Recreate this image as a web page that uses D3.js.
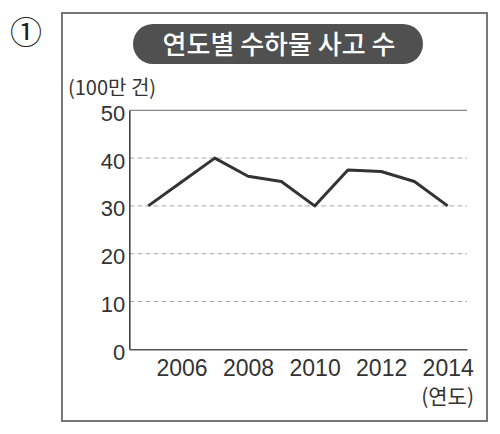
<!DOCTYPE html>
<html><head><meta charset="utf-8">
<script src="https://cdn.jsdelivr.net/npm/d3@7"></script>
<style>
html,body{margin:0;padding:0;background:#fff;}
svg{display:block;}
</style></head>
<body>
<script>
const years = [2005, 2006, 2007, 2008, 2009, 2010, 2011, 2012, 2013, 2014];
const incidents = [30, 35, 40, 36.2, 35.1, 30, 37.5, 37.2, 35.1, 30];
const yTicks = [0, 10, 20, 30, 40, 50];
const xTicks = [2006, 2008, 2010, 2012, 2014];
const title = "연도별 수하물 사고 수";
const yUnit = "(100만 건)";
const xUnit = "(연도)";
const marker = "①";

const W = 500, H = 434;
const svg = d3.select("body").append("svg").attr("width", W).attr("height", H);
const numFont = "'Liberation Sans Narrow','Arial Narrow','Liberation Sans',sans-serif";
const krFont = "'Noto Sans CJK KR','Noto Sans',sans-serif";

// frame
svg.append("rect").attr("x", 62).attr("y", 13).attr("width", 425).attr("height", 408)
  .attr("fill", "none").attr("stroke", "#777").attr("stroke-width", 2);

// marker
svg.append("text").attr("x", 26).attr("y", 44).attr("text-anchor", "middle")
  .attr("font-family", "'DejaVu Serif','Noto Sans CJK KR',serif").attr("font-size", 32)
  .attr("fill", "#222").text(marker);

// title pill
svg.append("rect").attr("x", 133).attr("y", 24).attr("width", 290).attr("height", 40)
  .attr("rx", 20).attr("ry", 20).attr("fill", "#505050");
svg.append("text").attr("x", 279).attr("y", 54).attr("text-anchor", "middle")
  .attr("font-family", krFont).attr("font-size", 26).attr("font-weight", 500)
  .attr("fill", "#fff").text(title);

const x = d3.scaleLinear().domain([2004.43, 2014.58]).range([129.3, 467]);
const y = d3.scaleLinear().domain([0, 50]).range([349.3, 110.3]);

// grid
const g = svg.append("g");
g.selectAll("line.grid").data(yTicks.filter(d => d > 0 && d < 50)).join("line")
  .attr("class", "grid")
  .attr("x1", x.range()[0]).attr("x2", x.range()[1])
  .attr("y1", d => y(d)).attr("y2", d => y(d))
  .attr("stroke", "#aaa").attr("stroke-width", 1).attr("stroke-dasharray", "5,3");
// top solid line
g.append("line").attr("x1", x.range()[0]).attr("x2", x.range()[1])
  .attr("y1", y(50)).attr("y2", y(50)).attr("stroke", "#888").attr("stroke-width", 1.3);

// y axis
const yAxis = d3.axisLeft(y).tickValues(yTicks).tickSize(0).tickPadding(4);
const ya = svg.append("g").attr("transform", `translate(${x.range()[0]},0)`).call(yAxis);
ya.select(".domain").attr("stroke", "#444").attr("stroke-width", 1.6);
ya.selectAll("text").attr("font-family", numFont).attr("font-size", 22).attr("fill", "#333")
  .attr("dy", "0.45em");

// x axis
const xAxis = d3.axisBottom(x).tickValues(xTicks).tickSize(0).tickPadding(10).tickFormat(d3.format("d"));
const xa = svg.append("g").attr("transform", `translate(0,${y(0)})`).call(xAxis);
xa.select(".domain").attr("stroke", "#555").attr("stroke-width", 1.6);
xa.selectAll("text").attr("font-family", numFont).attr("font-size", 23).attr("fill", "#333");

// units
svg.append("text").attr("x", 68).attr("y", 95).attr("font-family", krFont)
  .attr("font-size", 20).attr("fill", "#333").text(yUnit);
svg.append("text").attr("x", 474).attr("y", 404).attr("text-anchor", "end").attr("font-family", krFont)
  .attr("font-size", 21).attr("fill", "#333").text(xUnit);

// line
const line = d3.line().x((d, i) => x(years[i])).y(d => y(d));
svg.append("path").datum(incidents).attr("d", line)
  .attr("fill", "none").attr("stroke", "#333").attr("stroke-width", 3)
  .attr("stroke-linejoin", "round").attr("stroke-linecap", "butt");
</script>
</body></html>
